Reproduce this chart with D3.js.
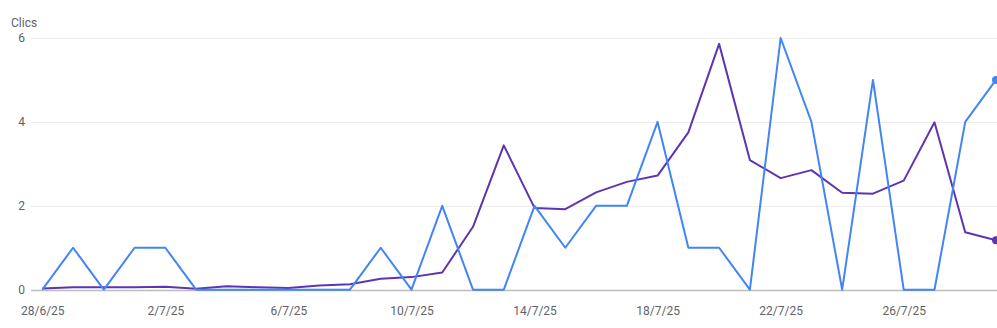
<!DOCTYPE html>
<html>
<head>
<meta charset="utf-8">
<script src="https://cdn.jsdelivr.net/npm/d3@7"></script>
<style>
  html, body { margin: 0; padding: 0; background: #fff; }
  svg { display: block; }
</style>
</head>
<body>
<div id="chart"></div>
<script>
  // Daily dates, 28/6/25 -> 29/7/25
  const dates = ['28/6/25','29/6/25','30/6/25','1/7/25','2/7/25','3/7/25','4/7/25','5/7/25',
    '6/7/25','7/7/25','8/7/25','9/7/25','10/7/25','11/7/25','12/7/25','13/7/25',
    '14/7/25','15/7/25','16/7/25','17/7/25','18/7/25','19/7/25','20/7/25','21/7/25',
    '22/7/25','23/7/25','24/7/25','25/7/25','26/7/25','27/7/25','28/7/25','29/7/25'];

  // Clics (blue series)
  const clicsBlue = [0,1,0,1,1,0,0,0,0,0,0,1,0,2,0,0,2,1,2,2,4,1,1,0,6,4,0,5,0,0,4,5];

  // Clics (purple series)
  const clicsPurple = [0.03,0.06,0.06,0.06,0.07,0.02,0.08,0.06,0.04,0.1,0.13,0.26,0.3,0.41,
    1.5,3.44,1.95,1.92,2.32,2.57,2.72,3.75,5.86,3.09,2.66,2.85,2.31,2.29,2.6,3.99,1.37,1.18];

  const yTicks = [0, 2, 4, 6];
  const xTickIdx = [0, 4, 8, 12, 16, 20, 24, 28];

  const width = 997, height = 328;
  const blue = '#4285f4', purple = '#5e35b1';

  const svg = d3.select('#chart').append('svg')
    .attr('width', width)
    .attr('height', height)
    .style('font-family', 'Roboto, Arial, sans-serif');

  const x = d3.scaleLinear().domain([0, dates.length - 1]).range([42.3, 996]);
  const y = d3.scaleLinear().domain([0, 6]).range([289.7, 38]);

  // Axis title
  svg.append('text')
    .attr('x', 11)
    .attr('y', 27)
    .attr('font-size', '12px')
    .attr('fill', '#5f6368')
    .text('Clics');

  // y labels
  const yAxis = svg.append('g')
    .call(d3.axisLeft(y).tickValues(yTicks).tickSize(0).tickPadding(0).tickFormat(d3.format('d')));
  yAxis.select('.domain').remove();
  yAxis.attr('transform', 'translate(25,0)');
  yAxis.selectAll('text')
    .attr('font-size', '12px')
    .attr('font-family', 'Roboto, Arial, sans-serif')
    .attr('fill', '#5f6368');

  // gridlines (baseline darker)
  svg.append('g').selectAll('line')
    .data(yTicks)
    .enter().append('line')
    .attr('x1', 31).attr('x2', width)
    .attr('y1', d => Math.round(y(d)) + 0.5)
    .attr('y2', d => Math.round(y(d)) + 0.5)
    .attr('stroke', d => d === 0 ? '#bdbdbd' : '#eeeeee')
    .attr('stroke-width', d => d === 0 ? 1.5 : 1);

  // X labels
  const xAxis = svg.append('g')
    .attr('transform', 'translate(0,306)')
    .call(d3.axisBottom(x).tickValues(xTickIdx).tickSize(0).tickPadding(0).tickFormat(i => dates[i]));
  xAxis.select('.domain').remove();
  xAxis.selectAll('text')
    .attr('font-size', '12px')
    .attr('font-family', 'Roboto, Arial, sans-serif')
    .attr('fill', '#5f6368');

  const line = d3.line()
    .x((d, i) => x(i))
    .y(d => y(d));

  svg.append('path')
    .datum(clicsPurple)
    .attr('d', line)
    .attr('fill', 'none')
    .attr('stroke', purple)
    .attr('stroke-width', 2)
    .attr('stroke-linejoin', 'round');

  svg.append('path')
    .datum(clicsBlue)
    .attr('d', line)
    .attr('fill', 'none')
    .attr('stroke', blue)
    .attr('stroke-width', 2)
    .attr('stroke-linejoin', 'round');

  // End markers
  const last = dates.length - 1;
  [[clicsPurple, purple], [clicsBlue, blue]].forEach(([vals, col]) => {
    svg.append('circle')
      .attr('cx', x(last))
      .attr('cy', y(vals[last]))
      .attr('r', 4)
      .attr('fill', col);
  });
</script>
</body>
</html>
